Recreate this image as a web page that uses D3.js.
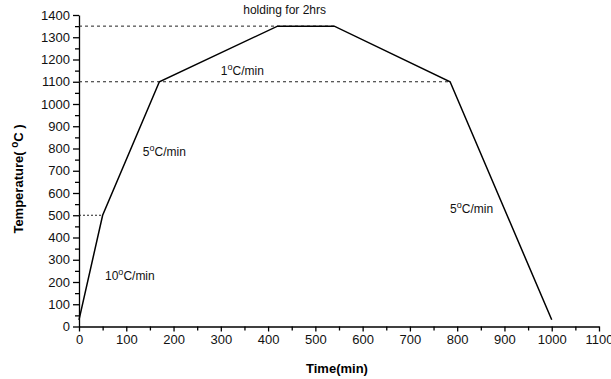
<!DOCTYPE html>
<meta charset="utf-8">
<style>
body { margin: 0; background: #fff; }
svg { font-family: "Liberation Sans", Arial, sans-serif; }
.axis path, .axis line { stroke: #000; stroke-width: 1.3px; }
.axis text { font-size: 13px; fill: #111; }
.note { font-size: 12px; fill: #111; }
.title { font-size: 13px; font-weight: bold; fill: #000; }
</style>
<svg width="611" height="379"></svg>
<script src="https://d3js.org/d3.v7.min.js"></script>
<script>
// heating schedule: time (min), temperature (degC)
var times = [0, 50, 170, 420, 540, 785, 1000];
var temps = [30, 500, 1100, 1350, 1350, 1100, 30];

// dashed guide levels: temperature and where they stop on the time axis
var guideTemps = [500, 1100, 1350];
var guideEnds = [50, 785, 540];

var xTicks = d3.range(0, 1101, 100);
var yTicks = d3.range(0, 1401, 100);

var notes = [
  {text: "holding for 2hrs", t: 435, v: 1405, sup: null},
  {text: "1", t: 300, v: 1132, sup: "C/min"},
  {text: "5", t: 135, v: 767, sup: "C/min"},
  {text: "10", t: 55, v: 210, sup: "C/min"},
  {text: "5", t: 785, v: 510, sup: "C/min"}
];

var svg = d3.select("svg");

var x = d3.scaleLinear().domain([0, 1100]).range([79, 599]);
var y = d3.scaleLinear().domain([0, 1400]).range([326.5, 15]);

// minor ticks first so the major ones sit on top
svg.append("g")
    .attr("class", "axis")
    .attr("transform", "translate(0," + y(0) + ")")
    .call(d3.axisBottom(x).tickValues(d3.range(50, 1100, 100)).tickSize(4).tickFormat(""))
    .call(function(g) { g.select(".domain").remove(); });

svg.append("g")
    .attr("class", "axis")
    .attr("transform", "translate(" + x(0) + ",0)")
    .call(d3.axisLeft(y).tickValues(d3.range(50, 1400, 100)).tickSize(4).tickFormat(""))
    .call(function(g) { g.select(".domain").remove(); });

svg.append("g")
    .attr("class", "axis")
    .attr("transform", "translate(0," + y(0) + ")")
    .call(d3.axisBottom(x).tickValues(xTicks).tickSize(5).tickSizeOuter(0).tickPadding(3).tickFormat(d3.format("d")));

svg.append("g")
    .attr("class", "axis")
    .attr("transform", "translate(" + x(0) + ",0)")
    .call(d3.axisLeft(y).tickValues(yTicks).tickSize(6).tickSizeOuter(0).tickPadding(3).tickFormat(d3.format("d")));

// dashed guides
svg.append("g").selectAll("line")
    .data(guideTemps)
    .enter().append("line")
      .attr("x1", x(0))
      .attr("x2", function(d, i) { return x(guideEnds[i]); })
      .attr("y1", function(d) { return y(d); })
      .attr("y2", function(d) { return y(d); })
      .attr("stroke", "#222")
      .attr("stroke-width", 1)
      .attr("stroke-dasharray", function(d) { return d == 500 ? "2,2" : "3,3"; });

// the schedule line
var line = d3.line()
    .x(function(d) { return x(d[0]); })
    .y(function(d) { return y(d[1]); });

svg.append("path")
    .datum(d3.zip(times, temps))
    .attr("d", line)
    .attr("fill", "none")
    .attr("stroke", "#000")
    .attr("stroke-width", 1.5)
    .attr("stroke-linejoin", "miter");

// annotations
var note = svg.append("g").selectAll("text")
    .data(notes)
    .enter().append("text")
      .attr("class", "note")
      .attr("x", function(d) { return x(d.t); })
      .attr("y", function(d) { return y(d.v); })
      .attr("text-anchor", function(d) { return d.sup ? "start" : "middle"; });

note.append("tspan").text(function(d) { return d.text; });
note.filter(function(d) { return d.sup; }).append("tspan")
    .attr("dy", -5).attr("font-size", "9px").text("o");
note.filter(function(d) { return d.sup; }).append("tspan")
    .attr("dy", 5).text(function(d) { return d.sup; });

// axis titles
svg.append("text")
    .attr("class", "title")
    .attr("x", 337)
    .attr("y", 373)
    .attr("text-anchor", "middle")
    .text("Time(min)");

var yt = svg.append("text")
    .attr("class", "title")
    .attr("transform", "translate(23,179) rotate(-90)")
    .attr("text-anchor", "middle");
yt.append("tspan").text("Temperature( ");
yt.append("tspan").attr("dy", -5).attr("font-size", "10px").text("o");
yt.append("tspan").attr("dy", 5).text("C )");
</script>
